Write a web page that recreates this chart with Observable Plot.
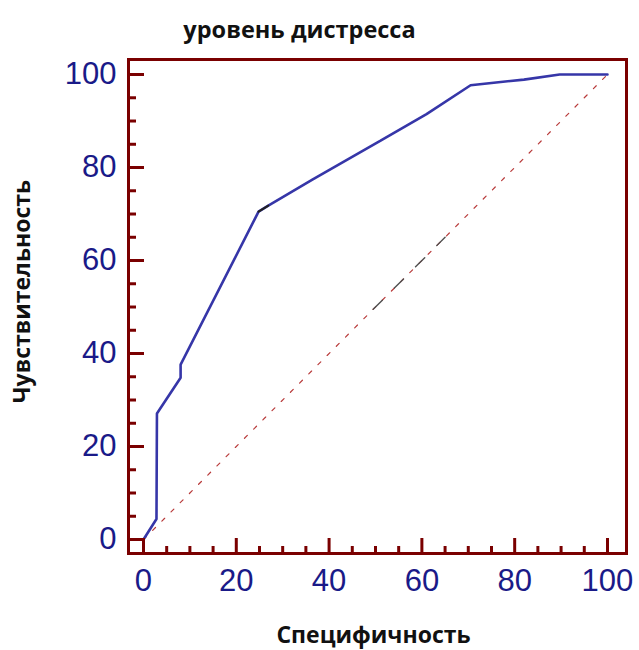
<!DOCTYPE html>
<html>
<head>
<meta charset="utf-8">
<script src="https://cdn.jsdelivr.net/npm/d3@7"></script>
<script src="https://cdn.jsdelivr.net/npm/@observablehq/plot@0.6"></script>
<style>
  body { margin: 0; background: #fff; }
  #chart svg { display: block; }
</style>
</head>
<body>
<div id="chart"></div>
<script>
// ROC curve: 100 - specificity (x) vs sensitivity (y), in percent
const rocX = [0, 2.8, 2.9, 8.0, 8.0, 24.8, 26.9, 36.4, 51.1, 61.0, 70.5, 76.0, 82.0, 89.7, 100];
const rocY = [0, 4.4, 27.1, 34.8, 37.6, 70.5, 71.8, 77.4, 85.8, 91.5, 97.7, 98.3, 98.9, 100, 100];

// short darker stretch of the curve
const kinkX = [24.8, 26.9];
const kinkY = [70.5, 71.8];

// reference diagonal (chance line) and its darker dashed middle part
const diagX = [0, 100];
const diagY = [0, 100];
const diagMidX = [49.5, 65];
const diagMidY = [49.5, 65];

const majorTicks = [0, 20, 40, 60, 80, 100];
const minorTicks = [5, 10, 15, 25, 30, 35, 45, 50, 55, 65, 70, 75, 85, 90, 95];

const title = "уровень дистресса";
const xLabel = "Специфичность";
const yLabel = "Чувствительность";

const curve = rocX.map((x, i) => ({x, y: rocY[i]}));
const kink = kinkX.map((x, i) => ({x, y: kinkY[i]}));
const diag = diagX.map((x, i) => ({x, y: diagY[i]}));
const diagMid = diagMidX.map((x, i) => ({x, y: diagMidY[i]}));

const frameColor = "#7a0000";
const labelColor = "#1a1a88";
const tickFont = "'Liberation Sans', Arial, sans-serif";
const titleFont = "'Open Sans', 'Noto Sans', sans-serif";

const chart = Plot.plot({
  width: 639,
  height: 650,
  marginLeft: 128,
  marginRight: 13,
  marginTop: 59,
  marginBottom: 97,
  style: {fontFamily: tickFont, background: "#fff"},
  x: {domain: [-3.23, 104.1]},
  y: {domain: [-3.01, 103.23]},
  marks: [
    // chance diagonal
    Plot.line(diag, {x: "x", y: "y", stroke: "#b83a3a", strokeWidth: 1.2, strokeDasharray: "4,9"}),
    Plot.line(diagMid, {x: "x", y: "y", stroke: "#505050", strokeWidth: 1.4, strokeDasharray: "13,17"}),
    // ROC curve
    Plot.line(curve, {x: "x", y: "y", stroke: "#3636a8", strokeWidth: 2.6, strokeLinejoin: "miter"}),
    Plot.line(kink, {x: "x", y: "y", stroke: "#222", strokeWidth: 2}),
    // inward ticks
    Plot.axisY(majorTicks, {tickSize: -16, fill: "none", label: null, stroke: frameColor, strokeWidth: 3}),
    Plot.axisY(minorTicks, {tickSize: -8, fill: "none", label: null, stroke: frameColor, strokeWidth: 3}),
    Plot.axisX(majorTicks, {tickSize: -15, fill: "none", label: null, stroke: frameColor, strokeWidth: 3}),
    Plot.axisX(minorTicks, {tickSize: -7, fill: "none", label: null, stroke: frameColor, strokeWidth: 3}),
    // tick labels
    Plot.axisY(majorTicks, {tickSize: 0, tickPadding: 12, label: null, fill: labelColor, fontSize: 31}),
    Plot.axisX(majorTicks, {tickSize: 0, tickPadding: 15, label: null, fill: labelColor, fontSize: 31}),
    Plot.frame({stroke: frameColor, strokeWidth: 3}),
    // title and axis titles
    Plot.text([title], {frameAnchor: "top-left", dx: 171, dy: -29, text: d => d, textAnchor: "middle", lineAnchor: "middle",
      fontFamily: titleFont, fontWeight: "bold", fontSize: 23.5, fill: "#111"}),
    Plot.text([xLabel], {frameAnchor: "bottom-left", dx: 245, dy: 82, text: d => d, textAnchor: "middle", lineAnchor: "middle",
      fontFamily: titleFont, fontWeight: "bold", fontSize: 23, fill: "#111"}),
    Plot.text([yLabel], {frameAnchor: "left", dx: -106, dy: -15, rotate: -90, text: d => d, textAnchor: "middle", lineAnchor: "middle",
      fontFamily: titleFont, fontWeight: "bold", fontSize: 23, fill: "#111"})
  ]
});

document.getElementById("chart").appendChild(chart);
</script>
</body>
</html>
